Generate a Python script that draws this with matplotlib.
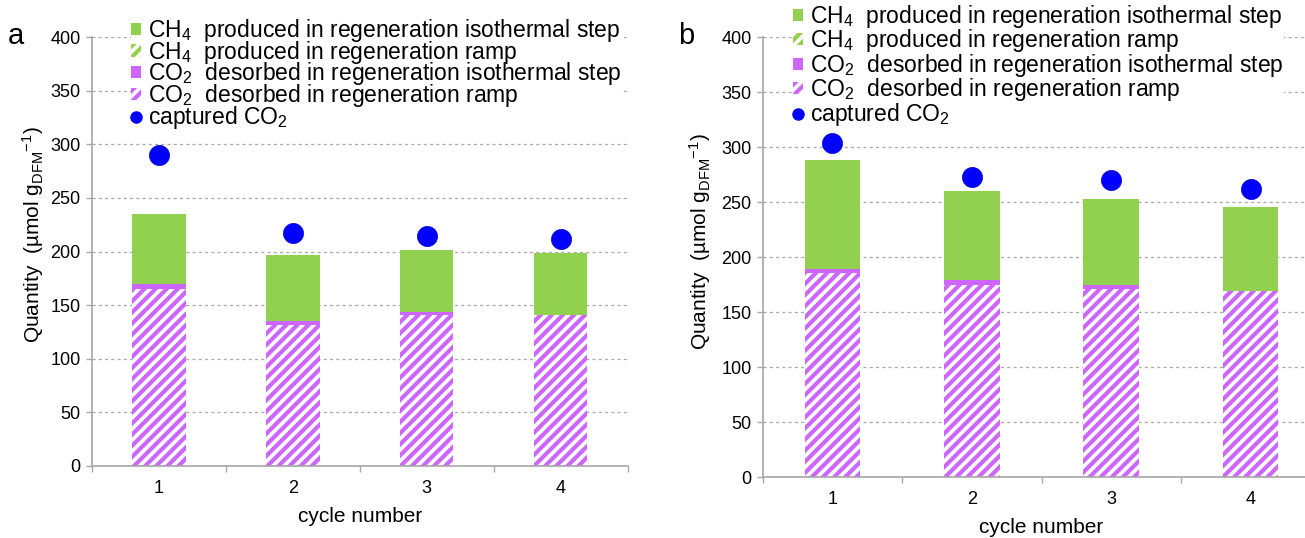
import matplotlib
matplotlib.use('Agg')
import matplotlib.pyplot as plt
from matplotlib.patches import Patch
from matplotlib.lines import Line2D
import numpy as np

plt.rcParams['font.family'] = ['Liberation Sans', 'DejaVu Sans']
plt.rcParams['mathtext.fontset'] = 'custom'
plt.rcParams['mathtext.rm'] = 'Liberation Sans'
plt.rcParams['mathtext.it'] = 'Liberation Sans:italic'
plt.rcParams['mathtext.bf'] = 'Liberation Sans:bold'
plt.rcParams['hatch.linewidth'] = 3.0

# data (µmol g_DFM^-1)
cycles = [1, 2, 3, 4]
a_co2_ramp = [164.8, 131.5, 140.8, 140.5]
a_co2_iso = [4.6, 3.7, 2.5, 0.4]
a_ch4_ramp = [0, 0, 0, 0]
a_ch4_iso = [65.2, 62.0, 58.3, 57.3]
a_captured = [290, 217, 214, 212]

b_co2_ramp = [185.5, 174.8, 170.9, 169.4]
b_co2_iso = [3.9, 4.9, 3.9, 0.3]
b_ch4_ramp = [0, 0, 0, 0]
b_ch4_iso = [98.8, 80.3, 77.9, 75.8]
b_captured = [304, 273, 270, 262]

GREEN = '#92D050'; PURPLE = '#CC66FF'; BLUE = '#0000FF'; GREY = '#A6A6A6'

labels = [r'CH$_4$  produced in regeneration isothermal step',
          r'CH$_4$  produced in regeneration ramp',
          r'CO$_2$  desorbed in regeneration isothermal step',
          r'CO$_2$  desorbed in regeneration ramp',
          r'captured CO$_2$']

W, H = 1305, 538
fig = plt.figure(figsize=(W/100, H/100), dpi=100)

def px(l, b, r, t):
    return [l/W, 1-b/H, (r-l)/W, (b-t)/H]

def panel(rect, co2r, co2i, ch4r, ch4i, capt):
    ax = fig.add_axes(rect)
    x = np.array(cycles)
    bw = 0.4
    bot = np.zeros(4)
    ax.bar(x, co2r, bw, bottom=bot, facecolor='white', edgecolor=PURPLE, hatch='///', linewidth=0, zorder=2)
    bot += co2r
    ax.bar(x, co2i, bw, bottom=bot, color=PURPLE, linewidth=0, zorder=2)
    bot += co2i
    ax.bar(x, ch4r, bw, bottom=bot, facecolor='white', edgecolor=GREEN, hatch='///', linewidth=0, zorder=2)
    bot += ch4r
    ax.bar(x, ch4i, bw, bottom=bot, color=GREEN, linewidth=0, zorder=2)
    ax.plot(x, capt, 'o', color=BLUE, markersize=14.5, markeredgecolor='#0000CC', markeredgewidth=0.5, zorder=3)

    ax.set_xlim(0.5, 4.5)
    ax.set_ylim(0, 400)
    ax.set_yticks(np.arange(0, 401, 50))
    ax.set_xticks(x)
    ax.set_xticks(np.arange(0.5, 4.6, 1), minor=True)
    ax.tick_params(axis='x', which='major', length=0, pad=10, labelsize=13)
    ax.tick_params(axis='x', which='minor', length=4, color=GREY, width=1)
    ax.tick_params(axis='y', length=4, color=GREY, width=1, pad=4, labelsize=13)
    ax.yaxis.grid(True, linestyle=(0, (2.5, 2.5)), color='#AAAAAA', linewidth=0.9, zorder=0)
    ax.set_axisbelow(True)
    for s in ['top', 'right']:
        ax.spines[s].set_visible(False)
    for s in ['left', 'bottom']:
        ax.spines[s].set_color(GREY)
        ax.spines[s].set_linewidth(1.2)
    ax.set_xlabel('cycle number', fontsize=15, labelpad=7)
    ax.set_ylabel(r'Quantity  (µmol g$_{\mathrm{DFM}}$$^{-1}$)', fontsize=15)
    return ax

ax_a = panel(px(91.7, 466, 627.7, 37), a_co2_ramp, a_co2_iso, a_ch4_ramp, a_ch4_iso, a_captured)
ax_b = panel(px(762.7, 477.3, 1320.3, 37.3), b_co2_ramp, b_co2_iso, b_ch4_ramp, b_ch4_iso, b_captured)
ax_a.yaxis.set_label_coords(-0.085, 0.54)
ax_b.yaxis.set_label_coords(-0.09, 0.535)

handles = [Patch(facecolor=GREEN, linewidth=0),
           Patch(facecolor='white', edgecolor=GREEN, hatch='///', linewidth=0),
           Patch(facecolor=PURPLE, linewidth=0),
           Patch(facecolor='white', edgecolor=PURPLE, hatch='///', linewidth=0),
           Line2D([], [], marker='o', linestyle='none', color=BLUE, markersize=8)]

def legend(x0, y0, spacing):
    fig.legend(handles, labels, loc='upper left', bbox_to_anchor=(x0/W, 1-y0/H),
               fontsize=16.5, frameon=True, facecolor='white', edgecolor='none', framealpha=1,
               borderpad=0, borderaxespad=0, handlelength=0.45, handleheight=0.45,
               handletextpad=0.3, labelspacing=spacing)

legend(131, 17, -0.23)
legend(793, 3, -0.11)

fig.text(8/W, 1-44/H, 'a', fontsize=21)
fig.text(678/W, 1-44/H, 'b', fontsize=21)

fig.savefig('out.png', dpi=100)
